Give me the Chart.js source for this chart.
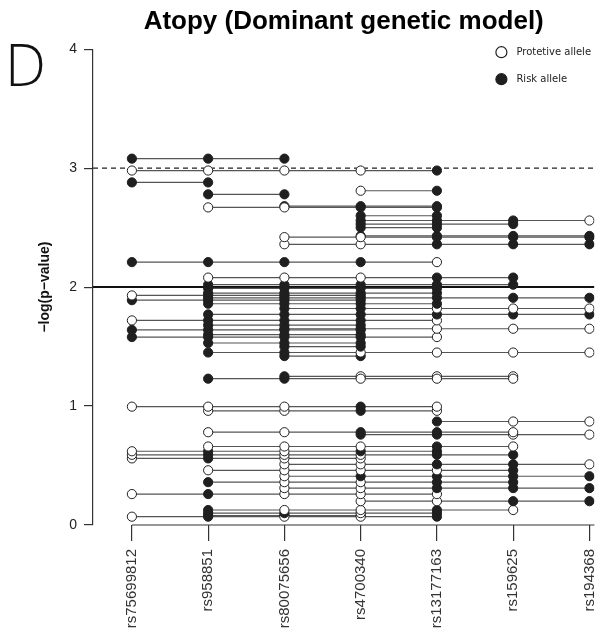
<!DOCTYPE html>
<html>
<head>
<meta charset="utf-8">
<script src="https://cdn.jsdelivr.net/npm/chart.js@4.4.1/dist/chart.umd.min.js"></script>
<style>
  html, body { margin: 0; padding: 0; background: #fff; overflow: hidden; }
  #wrap { position: relative; width: 600px; height: 639px; }
</style>
</head>
<body>
<div id="wrap"><canvas id="chart"></canvas></div>
<script>
const snps = ["rs75699812", "rs958851", "rs80075656", "rs4700340", "rs13177163", "rs159625", "rs194368"];
const yTicks = [0, 1, 2, 3, 4];

// one haplotype line per entry: its -log(p) value, first SNP index, and allele at each SNP
// (O = protective allele, F = risk allele)
const lineY = [3.08, 2.98, 2.88, 2.78, 2.67, 2.68, 2.81, 2.60, 2.56, 2.53, 2.50, 2.42, 2.43, 2.36, 2.21,
  2.08, 2.02, 1.99, 1.95, 1.93, 1.91, 1.89, 1.86, 1.82, 1.77, 1.72, 1.68, 1.65, 1.64, 1.60, 1.58, 1.53,
  1.50, 1.45, 1.42, 1.23, 1.25,
  0.995, 0.96, 0.87, 0.78, 0.76, 0.66, 0.62, 0.59, 0.56, 0.51, 0.46, 0.41, 0.36, 0.31, 0.26, 0.20,
  0.126, 0.10, 0.07, 0.08];
const lineFrom = [0, 0, 0, 1, 1, 2, 3, 3, 3, 3, 3, 2, 3, 2, 0,
  1, 1, 1, 1, 0, 1, 0, 1, 2, 1, 0, 1, 2, 0, 1, 0, 1,
  2, 1, 2, 1, 2,
  0, 1, 4, 1, 3, 1, 0, 0, 0, 2, 1, 2, 1, 2, 0, 3,
  1, 1, 0, 1];
const lineAlleles = ["FFF", "OOOOF", "FF", "FF", "OOFF", "FFF", "OF", "FF", "FFFO", "FFF", "FF", "OOFFF", "FFFF", "OOFFF", "FFFFO",
  "OOOFF", "FFFFF", "FFFF", "FFFF", "OFFF", "FFFFFF", "FFFF", "FFFF", "FFOOO", "FFFFFF", "OFFFO", "FFF", "FFOOO", "FFFF", "FFF", "FFFFO", "FFF",
  "FF", "FFOOOO", "FF", "FFOOO", "FOOO",
  "OOOFO", "OOFO", "FOO", "OOFFO", "FFOO", "OOOFO", "OFOFF", "OFOOFF", "OFOO", "OOFFO", "OOOOF", "OFFFF", "FOOFF", "OOFFF", "OFOOO", "OOFF",
  "FOOFO", "FFOF", "OFOOF", "FFF"];

const dashedLevel = 3;
const solidLevel = 2;
const legendLabels = ["Protetive allele", "Risk allele"];

const dark = "#1f1f1f";
const xMin = -0.51, xMax = 6.065;

const datasets = lineY.map((y, i) => {
  const alleles = lineAlleles[i].split("");
  return {
    data: alleles.map((a, k) => ({ x: lineFrom[i] + k, y: y })),
    borderColor: "#555",
    borderWidth: 1.2,
    pointRadius: 4.6,
    pointBorderWidth: 1,
    pointBorderColor: dark,
    pointBackgroundColor: alleles.map(a => (a === "F" ? dark : "#fff")),
  };
});

datasets.push({
  data: [{ x: xMin, y: dashedLevel }, { x: xMax, y: dashedLevel }],
  borderColor: "#222",
  borderWidth: 1.2,
  borderDash: [5, 4],
  pointRadius: 0,
});
datasets.push({
  data: [{ x: xMin, y: solidLevel }, { x: xMax, y: solidLevel }],
  borderColor: "#111",
  borderWidth: 2,
  pointRadius: 0,
});

const extras = {
  id: "extras",
  afterDraw(chart) {
    const { ctx, chartArea, scales } = chart;
    ctx.save();
    // R-style x axis: starts at the first SNP
    ctx.strokeStyle = "#333";
    ctx.lineWidth = 1.2;
    ctx.beginPath();
    ctx.moveTo(scales.x.getPixelForValue(0), chartArea.bottom);
    ctx.lineTo(chartArea.right, chartArea.bottom);
    ctx.stroke();

    // legend inside the plot, top right
    ctx.font = '10px "DejaVu Sans"';
    ctx.textBaseline = "middle";
    legendLabels.forEach((label, i) => {
      const cx = chartArea.right - 93;
      const cy = chartArea.top + 3 + i * 27;
      ctx.beginPath();
      ctx.arc(cx, cy, 5.5, 0, Math.PI * 2);
      ctx.fillStyle = i === 0 ? "#fff" : dark;
      ctx.fill();
      ctx.strokeStyle = dark;
      ctx.lineWidth = 1.2;
      ctx.stroke();
      ctx.fillStyle = "#222";
      ctx.fillText(label, cx + 15, cy);
    });

    // panel letter
    ctx.font = '300 58px "Open Sans"';
    ctx.textBaseline = "alphabetic";
    ctx.fillStyle = "#111";
    ctx.fillText("D", 5, 86);
    ctx.restore();
  }
};

new Chart(document.getElementById("chart"), {
  type: "line",
  data: { datasets },
  plugins: [extras],
  options: {
    responsive: true,
    maintainAspectRatio: false,
    animation: false,
    events: [],
    layout: { padding: 0 },
    plugins: {
      legend: { display: false },
      tooltip: { enabled: false },
      title: {
        display: true,
        text: "Atopy (Dominant genetic model)",
        fullSize: false,
        color: "#000",
        font: { family: "Liberation Sans", size: 26, weight: "bold", lineHeight: 1.2 },
        padding: { top: 6, bottom: 12 },
      },
    },
    scales: {
      x: {
        type: "linear",
        min: xMin,
        max: xMax,
        afterBuildTicks: s => { s.ticks = snps.map((_, i) => ({ value: i })); },
        afterFit: s => { s.height = 114; s.paddingLeft = 0; s.paddingRight = 0; },
        ticks: {
          autoSkip: false,
          minRotation: 90,
          maxRotation: 90,
          padding: 8,
          color: "#333",
          font: { family: "Liberation Sans", size: 15 },
          callback: v => snps[v],
        },
        grid: { drawOnChartArea: false, drawTicks: true, tickLength: 16, color: "#333", lineWidth: 1.2 },
        border: { display: false },
      },
      y: {
        min: 0,
        max: 4,
        afterBuildTicks: s => { s.ticks = yTicks.map(v => ({ value: v })); },
        afterFit: s => { s.width = 93; },
        ticks: {
          padding: 7,
          color: "#222",
          font: { family: "Liberation Sans", size: 14 },
        },
        grid: { drawOnChartArea: false, drawTicks: true, tickLength: 9, color: "#333", lineWidth: 1.2 },
        border: { display: true, color: "#333", width: 1.2 },
        title: {
          display: true,
          text: "\u2212log(p\u2212value)",
          color: "#111",
          font: { family: "Liberation Sans", size: 14, weight: "bold" },
          padding: { top: 37, bottom: 0 },
        },
      },
    },
  },
});
</script>
</body>
</html>
